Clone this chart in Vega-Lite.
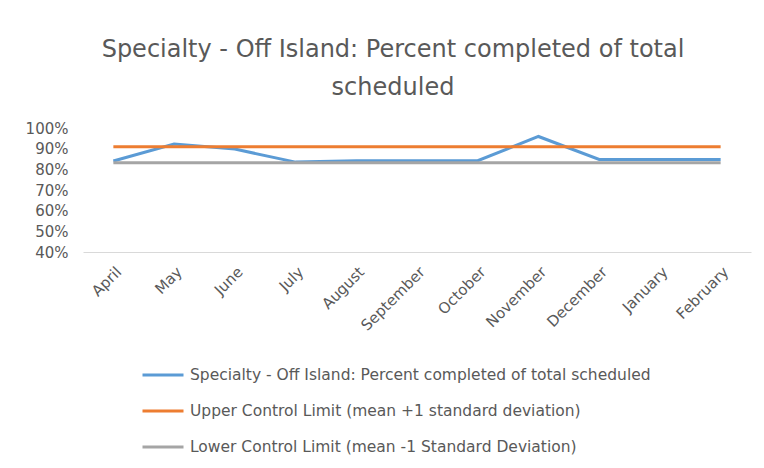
{
  "$schema": "https://vega.github.io/schema/vega-lite/v6.json",
  "width": 668,
  "height": 124,
  "autosize": {"type": "none"},
  "padding": {"left": 83, "top": 128, "right": 13, "bottom": 216},
  "background": "white",
  "config": {"view": {"stroke": null}},
  "title": {
    "text": ["Specialty - Off Island: Percent completed of total", "scheduled"],
    "font": "DejaVu Sans",
    "fontSize": 24,
    "fontWeight": "normal",
    "color": "#595959",
    "anchor": "middle",
    "dx": -24,
    "lineHeight": 38,
    "offset": 21
  },
  "data": {
    "values": [
      {"month": "April", "series": "Specialty - Off Island: Percent completed of total scheduled", "value": 0.840},
      {"month": "May", "series": "Specialty - Off Island: Percent completed of total scheduled", "value": 0.922},
      {"month": "June", "series": "Specialty - Off Island: Percent completed of total scheduled", "value": 0.898},
      {"month": "July", "series": "Specialty - Off Island: Percent completed of total scheduled", "value": 0.835},
      {"month": "August", "series": "Specialty - Off Island: Percent completed of total scheduled", "value": 0.842},
      {"month": "September", "series": "Specialty - Off Island: Percent completed of total scheduled", "value": 0.842},
      {"month": "October", "series": "Specialty - Off Island: Percent completed of total scheduled", "value": 0.842},
      {"month": "November", "series": "Specialty - Off Island: Percent completed of total scheduled", "value": 0.959},
      {"month": "December", "series": "Specialty - Off Island: Percent completed of total scheduled", "value": 0.848},
      {"month": "January", "series": "Specialty - Off Island: Percent completed of total scheduled", "value": 0.848},
      {"month": "February", "series": "Specialty - Off Island: Percent completed of total scheduled", "value": 0.848},
      {"month": "April", "series": "Upper Control Limit (mean +1 standard deviation)", "value": 0.909},
      {"month": "May", "series": "Upper Control Limit (mean +1 standard deviation)", "value": 0.909},
      {"month": "June", "series": "Upper Control Limit (mean +1 standard deviation)", "value": 0.909},
      {"month": "July", "series": "Upper Control Limit (mean +1 standard deviation)", "value": 0.909},
      {"month": "August", "series": "Upper Control Limit (mean +1 standard deviation)", "value": 0.909},
      {"month": "September", "series": "Upper Control Limit (mean +1 standard deviation)", "value": 0.909},
      {"month": "October", "series": "Upper Control Limit (mean +1 standard deviation)", "value": 0.909},
      {"month": "November", "series": "Upper Control Limit (mean +1 standard deviation)", "value": 0.909},
      {"month": "December", "series": "Upper Control Limit (mean +1 standard deviation)", "value": 0.909},
      {"month": "January", "series": "Upper Control Limit (mean +1 standard deviation)", "value": 0.909},
      {"month": "February", "series": "Upper Control Limit (mean +1 standard deviation)", "value": 0.909},
      {"month": "April", "series": "Lower Control Limit (mean -1 Standard Deviation)", "value": 0.832},
      {"month": "May", "series": "Lower Control Limit (mean -1 Standard Deviation)", "value": 0.832},
      {"month": "June", "series": "Lower Control Limit (mean -1 Standard Deviation)", "value": 0.832},
      {"month": "July", "series": "Lower Control Limit (mean -1 Standard Deviation)", "value": 0.832},
      {"month": "August", "series": "Lower Control Limit (mean -1 Standard Deviation)", "value": 0.832},
      {"month": "September", "series": "Lower Control Limit (mean -1 Standard Deviation)", "value": 0.832},
      {"month": "October", "series": "Lower Control Limit (mean -1 Standard Deviation)", "value": 0.832},
      {"month": "November", "series": "Lower Control Limit (mean -1 Standard Deviation)", "value": 0.832},
      {"month": "December", "series": "Lower Control Limit (mean -1 Standard Deviation)", "value": 0.832},
      {"month": "January", "series": "Lower Control Limit (mean -1 Standard Deviation)", "value": 0.832},
      {"month": "February", "series": "Lower Control Limit (mean -1 Standard Deviation)", "value": 0.832}
    ]
  },
  "mark": {"type": "line", "strokeWidth": 3},
  "encoding": {
    "x": {
      "field": "month",
      "type": "ordinal",
      "sort": ["April", "May", "June", "July", "August", "September", "October", "November", "December", "January", "February"],
      "scale": {"type": "point", "padding": 0.5},
      "axis": {
        "title": null,
        "labelAngle": -45,
        "ticks": false,
        "grid": false,
        "domainColor": "#D9D9D9",
        "domainWidth": 1,
        "labelColor": "#595959",
        "labelFont": "DejaVu Sans",
        "labelFontSize": 15,
        "labelPadding": 12
      }
    },
    "y": {
      "field": "value",
      "type": "quantitative",
      "scale": {"domain": [0.4, 1.0], "nice": false, "zero": false},
      "axis": {
        "title": null,
        "format": ".0%",
        "values": [0.4, 0.5, 0.6, 0.7, 0.8, 0.9, 1.0],
        "domain": false,
        "ticks": false,
        "grid": false,
        "labelColor": "#595959",
        "labelFont": "DejaVu Sans",
        "labelFontSize": 15,
        "labelPadding": 15
      }
    },
    "color": {
      "field": "series",
      "type": "nominal",
      "sort": null,
      "scale": {
        "domain": [
          "Specialty - Off Island: Percent completed of total scheduled",
          "Upper Control Limit (mean +1 standard deviation)",
          "Lower Control Limit (mean -1 Standard Deviation)"
        ],
        "range": ["#5B9BD5", "#ED7D31", "#A5A5A5"]
      },
      "legend": {
        "title": null,
        "orient": "none",
        "legendX": 58,
        "legendY": 225,
        "direction": "vertical",
        "symbolType": "stroke",
        "symbolStrokeWidth": 3,
        "symbolSize": 1681,
        "labelFont": "DejaVu Sans",
        "labelFontSize": 15.5,
        "labelColor": "#595959",
        "labelOffset": 5,
        "labelLimit": 600,
        "rowPadding": 5
      }
    }
  }
}
